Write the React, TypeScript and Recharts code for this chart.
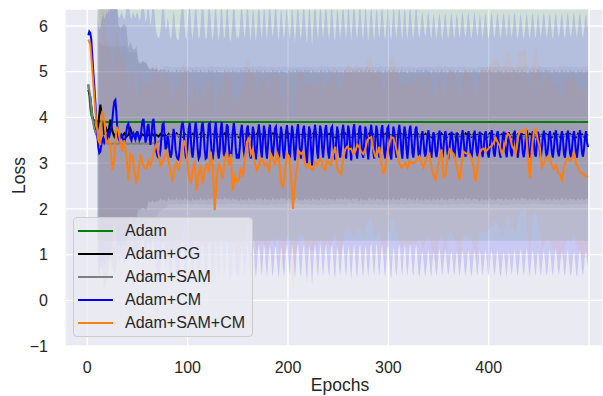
import React from 'react';
import { ComposedChart, Line, Area, XAxis, YAxis, CartesianGrid, Legend } from 'recharts';

const seriesNames = ['Adam', 'Adam+CG', 'Adam+SAM', 'Adam+CM', 'Adam+SAM+CM'];
const seriesColors = ['#008000', '#000000', '#808080', '#0000ff', '#ff7f0e'];
const bandOpacity = [0.1, 0.12, 0.12, 0.14, 0.08];

const xTicks = [0, 100, 200, 300, 400, 500];
const yTicks = [-1, 0, 1, 2, 3, 4, 5, 6];
const xDomain: [number, number] = [-22.2, 513.9];
const yDomain: [number, number] = [-1, 6.372];

const bandStartEpoch = 10;
const stdBlockLength = 10;

// Adam (green)
const adamEpochs = [1, 2, 3, 4, 5, 6, 8, 10, 14, 20, 499];
const adamLoss = [4.72, 4.5, 4.22, 4.05, 3.98, 3.95, 3.93, 3.92, 3.91, 3.9, 3.9];
const adamStd = [2.6];

// Adam+CG (black), every 2 epochs from epoch 1
const cgLoss = [
  4.60, 4.45, 4.05, 3.80, 3.62, 3.85, 4.28, 4.00, 3.62, 3.75,
  3.65, 3.95, 3.70, 3.58, 3.68, 3.62, 3.55, 3.60, 3.65, 3.58,
  3.62, 3.75, 3.62, 3.58, 3.66, 3.60, 3.57, 3.63, 3.60, 3.58,
  3.63, 3.58, 3.64, 3.59, 3.62, 3.58, 3.64, 3.60, 3.63, 3.57,
  3.64, 3.59, 3.62, 3.58, 3.65, 3.59, 3.63, 3.58, 3.64, 3.60,
  3.62, 3.57, 3.64, 3.59, 3.63, 3.58, 3.65, 3.59, 3.62, 3.58,
  3.64, 3.60, 3.63, 3.57, 3.64, 3.59, 3.62, 3.58, 3.65, 3.59,
  3.63, 3.58, 3.64, 3.60, 3.62, 3.57, 3.64, 3.59, 3.63, 3.58,
  3.65, 3.59, 3.62, 3.58, 3.64, 3.60, 3.63, 3.57, 3.64, 3.59,
  3.62, 3.58, 3.65, 3.59, 3.63, 3.58, 3.64, 3.60, 3.62, 3.57,
  3.64, 3.59, 3.63, 3.58, 3.65, 3.59, 3.62, 3.58, 3.64, 3.60,
  3.63, 3.57, 3.64, 3.59, 3.62, 3.58, 3.65, 3.59, 3.63, 3.58,
  3.64, 3.60, 3.62, 3.57, 3.64, 3.59, 3.63, 3.58, 3.65, 3.59,
  3.62, 3.58, 3.64, 3.60, 3.63, 3.57, 3.64, 3.59, 3.62, 3.58,
  3.65, 3.59, 3.63, 3.58, 3.64, 3.60, 3.62, 3.57, 3.64, 3.59,
  3.63, 3.58, 3.65, 3.59, 3.62, 3.58, 3.64, 3.60, 3.63, 3.57,
  3.64, 3.59, 3.62, 3.58, 3.65, 3.59, 3.63, 3.58, 3.64, 3.60,
  3.62, 3.57, 3.64, 3.59, 3.63, 3.58, 3.65, 3.59, 3.62, 3.58,
  3.64, 3.60, 3.63, 3.57, 3.64, 3.59, 3.62, 3.58, 3.65, 3.59,
  3.63, 3.58, 3.64, 3.60, 3.62, 3.57, 3.64, 3.59, 3.63, 3.58,
  3.65, 3.59, 3.62, 3.58, 3.64, 3.60, 3.63, 3.57, 3.64, 3.59,
  3.62, 3.58, 3.65, 3.59, 3.63, 3.58, 3.64, 3.60, 3.62, 3.57,
  3.64, 3.59, 3.63, 3.58, 3.65, 3.59, 3.62, 3.58, 3.64, 3.60,
  3.63, 3.57, 3.64, 3.59, 3.62, 3.58, 3.65, 3.59, 3.63, 3.58,
  3.64, 3.60, 3.62, 3.57, 3.64, 3.59, 3.63, 3.58, 3.62, 3.60,
];
const cgStd = [
  3.40, 3.00, 2.40, 1.90, 1.60, 1.45, 1.42, 1.40, 1.40, 1.41,
  1.40, 1.40, 1.39, 1.40, 1.41, 1.40, 1.40, 1.40, 1.39, 1.40,
  1.41, 1.40, 1.40, 1.40, 1.39, 1.40, 1.41, 1.40, 1.40, 1.40,
  1.39, 1.40, 1.41, 1.40, 1.40, 1.40, 1.39, 1.40, 1.41, 1.40,
  1.40, 1.40, 1.39, 1.40, 1.41, 1.40, 1.40, 1.40, 1.40,
];

// Adam+SAM (gray), every 2 epochs from epoch 1
const samLoss = [
  4.72, 4.45, 4.00, 3.75, 3.62, 3.52, 3.48, 3.45, 3.44, 3.43,
  3.43, 3.42, 3.43, 3.43, 3.42, 3.43, 3.43, 3.42, 3.43, 3.43,
  3.42, 3.43, 3.43, 3.42, 3.43, 3.43, 3.42, 3.43, 3.43, 3.42,
  3.43, 3.43, 3.44, 3.44, 3.45, 3.47, 3.50, 3.53, 3.56, 3.58,
  3.60, 3.61, 3.59, 3.60, 3.61, 3.60, 3.59, 3.61, 3.60, 3.60,
  3.61, 3.60, 3.59, 3.60, 3.61, 3.59, 3.60, 3.61, 3.60, 3.59,
  3.60, 3.61, 3.60, 3.59, 3.60, 3.61, 3.60, 3.60, 3.59, 3.61,
  3.60, 3.59, 3.61, 3.60, 3.60, 3.61, 3.59, 3.60, 3.61, 3.60,
  3.59, 3.60, 3.61, 3.60, 3.59, 3.61, 3.60, 3.60, 3.61, 3.59,
  3.60, 3.61, 3.60, 3.59, 3.60, 3.61, 3.60, 3.59, 3.61, 3.60,
  3.61, 3.60, 3.59, 3.60, 3.61, 3.60, 3.60, 3.59, 3.61, 3.60,
  3.60, 3.59, 3.61, 3.60, 3.59, 3.60, 3.61, 3.60, 3.60, 3.61,
  3.59, 3.60, 3.61, 3.60, 3.59, 3.61, 3.60, 3.60, 3.59, 3.60,
  3.61, 3.60, 3.59, 3.61, 3.60, 3.60, 3.61, 3.59, 3.60, 3.61,
  3.60, 3.59, 3.60, 3.61, 3.60, 3.59, 3.61, 3.60, 3.60, 3.61,
  3.59, 3.60, 3.61, 3.60, 3.60, 3.59, 3.61, 3.60, 3.59, 3.60,
  3.61, 3.60, 3.60, 3.59, 3.61, 3.60, 3.61, 3.59, 3.60, 3.60,
  3.60, 3.61, 3.59, 3.60, 3.61, 3.60, 3.59, 3.60, 3.61, 3.60,
  3.59, 3.61, 3.60, 3.60, 3.59, 3.61, 3.60, 3.61, 3.60, 3.59,
  3.60, 3.60, 3.61, 3.59, 3.60, 3.61, 3.60, 3.59, 3.61, 3.60,
  3.61, 3.59, 3.60, 3.60, 3.61, 3.60, 3.59, 3.61, 3.60, 3.60,
  3.60, 3.61, 3.59, 3.60, 3.61, 3.60, 3.60, 3.59, 3.61, 3.60,
  3.59, 3.60, 3.61, 3.60, 3.59, 3.61, 3.60, 3.60, 3.61, 3.59,
  3.60, 3.61, 3.60, 3.59, 3.60, 3.61, 3.59, 3.60, 3.61, 3.60,
  3.61, 3.60, 3.59, 3.61, 3.60, 3.60, 3.59, 3.61, 3.60, 3.60,
];
const samStd = [
  2.13, 2.13, 2.13, 2.00, 1.80, 1.65, 1.55, 1.50, 1.50, 1.50,
  1.50, 1.51, 1.50, 1.49, 1.50, 1.50, 1.51, 1.50, 1.50, 1.49,
  1.50, 1.50, 1.51, 1.50, 1.50, 1.49, 1.50, 1.50, 1.51, 1.50,
  1.50, 1.49, 1.50, 1.50, 1.51, 1.50, 1.50, 1.49, 1.50, 1.50,
  1.51, 1.50, 1.50, 1.49, 1.50, 1.50, 1.51, 1.50, 1.50,
];

// Adam+CM (blue), every epoch from epoch 1
const cmLossStart = [
  5.80, 5.88, 5.85, 5.70, 5.35, 5.00, 4.70, 4.35, 3.95, 3.60, 3.35, 3.22, 3.25,
  3.40, 3.50, 3.55, 3.45, 3.50, 3.60, 3.55, 3.65, 3.60, 3.70, 3.80, 3.95, 4.20, 4.35, 4.38, 4.10, 3.75, 3.55,
  3.50, 3.55, 3.62, 3.58, 3.50, 3.45, 3.55, 3.70, 3.82, 3.86,
  3.70, 3.55, 3.50, 3.60, 3.65, 3.58, 3.52, 3.62, 3.70, 3.60,
  3.50, 3.55, 3.75, 3.92, 3.97, 3.70, 3.45, 3.55, 3.80, 3.86,
  3.60, 3.40, 3.60, 3.90, 3.97, 3.70, 3.40, 3.25, 3.15,
];
const cmLossEarly = [
  3.12, 3.15, 3.30, 3.60, 3.85, 3.88, 3.60, 3.30, 3.35, 3.60,
  3.50, 3.25, 3.12, 3.20, 3.50, 3.75, 3.60, 3.30, 3.15, 3.10,
  3.08, 3.30, 3.60, 3.82, 3.90, 3.75, 3.40, 3.15, 3.10, 3.40,
  3.75, 3.88, 3.60, 3.25, 3.12, 3.35, 3.70, 3.90, 3.70, 3.30,
  3.10, 3.15, 3.45, 3.80, 3.90, 3.65, 3.30, 3.10, 3.12, 3.50,
  3.85, 3.88, 3.55, 3.20, 3.08, 3.30, 3.70, 3.90, 3.60, 3.25,
  3.10, 3.30, 3.75, 3.90, 3.55, 3.20, 3.15, 3.50, 3.85, 3.80,
  3.40, 3.12, 3.05, 3.30, 3.70, 3.88, 3.70, 3.30, 3.10, 3.20,
];
const cmLossMid = [
  3.10, 3.35, 3.70, 3.84, 3.60, 3.25,
  3.12, 3.40, 3.75, 3.82, 3.55, 3.22,
  3.10, 3.50, 3.80, 3.68, 3.30,
  3.08, 3.30, 3.68, 3.85, 3.62, 3.28,
  3.12, 3.48, 3.82, 3.70, 3.32,
  3.10, 3.36, 3.72, 3.84, 3.58, 3.24,
  3.14, 3.42, 3.76, 3.80, 3.52, 3.20,
  3.08, 3.46, 3.80, 3.66, 3.28,
  3.10, 3.32, 3.70, 3.83, 3.60, 3.26,
  3.12, 3.50, 3.82, 3.68, 3.30,
  3.06, 3.34, 3.72, 3.85, 3.56, 3.22,
  3.10, 3.40, 3.74, 3.82, 3.54, 3.20,
  3.00, 3.44, 3.80, 3.70, 3.30,
  2.95, 3.30, 3.68, 3.84, 3.62, 3.26,
  3.10, 3.48, 3.82, 3.72, 3.34,
  3.12, 3.38, 3.72, 3.83, 3.58, 3.24,
  3.10, 3.42, 3.76, 3.80, 3.50, 3.18,
  3.08, 3.46, 3.80, 3.68, 3.30,
  3.12, 3.34, 3.70, 3.84, 3.60, 3.26,
  3.10, 3.50, 3.82, 3.70, 3.32,
  3.06, 3.36, 3.74, 3.85, 3.56, 3.22,
  3.10, 3.40, 3.76, 3.82, 3.54, 3.20,
  3.12, 3.46, 3.80, 3.70, 3.30,
  3.08, 3.32, 3.70, 3.84, 3.60, 3.24,
  3.10, 3.48, 3.82, 3.70, 3.32,
  3.12, 3.38, 3.72, 3.83, 3.56, 3.22,
  3.10, 3.42, 3.76, 3.80, 3.52, 3.18,
  3.08, 3.46, 3.80, 3.68, 3.30,
  3.12, 3.34, 3.70, 3.84, 3.60, 3.26,
  3.10, 3.50, 3.80, 3.70, 3.32,
  3.10, 3.36, 3.72, 3.82, 3.56, 3.22,
  3.12, 3.40, 3.74, 3.80, 3.54, 3.20,
];
const cmLossLate = [
  3.12, 3.32, 3.58, 3.70, 3.50, 3.22,
  3.14, 3.34, 3.60, 3.72, 3.48, 3.20,
  3.12, 3.44, 3.68, 3.56, 3.26,
  3.13, 3.30, 3.58, 3.71, 3.52, 3.24,
  3.12, 3.35, 3.62, 3.70, 3.46, 3.20,
  3.15, 3.33, 3.59, 3.69, 3.50, 3.22,
  3.13, 3.42, 3.67, 3.58, 3.28,
  3.12, 3.31, 3.57, 3.72, 3.52, 3.23,
  3.14, 3.34, 3.61, 3.70, 3.48, 3.21,
  3.12, 3.32, 3.58, 3.71, 3.51, 3.24,
  3.15, 3.43, 3.69, 3.57, 3.27,
  3.13, 3.33, 3.60, 3.70, 3.49, 3.22,
  3.12, 3.31, 3.58, 3.72, 3.52, 3.23,
  3.14, 3.35, 3.62, 3.70, 3.47, 3.20,
  3.12, 3.32, 3.57, 3.69, 3.50, 3.24,
  3.13, 3.41, 3.68, 3.56, 3.26,
  3.15, 3.34, 3.60, 3.71, 3.49, 3.21,
  3.12, 3.32, 3.58, 3.70, 3.52, 3.23,
  3.13, 3.30, 3.59, 3.72, 3.50, 3.22,
  3.12, 3.35, 3.61, 3.70, 3.48, 3.20,
  3.14, 3.43, 3.69, 3.57, 3.27,
  3.12, 3.33, 3.58, 3.71, 3.51, 3.23,
  3.13, 3.31, 3.60, 3.70, 3.49, 3.22,
  3.12, 3.34, 3.59, 3.72, 3.50, 3.24,
  3.15, 3.32, 3.57, 3.70, 3.52, 3.21,
  3.12, 3.33, 3.61, 3.71, 3.48, 3.22,
  3.13, 3.31, 3.58, 3.70, 3.50, 3.23,
  3.12, 3.35, 3.60, 3.72, 3.51, 3.22,
  3.14, 3.32, 3.58, 3.70, 3.45, 3.35,
];
const cmStd = [
  2.70, 2.70, 2.68, 2.65, 2.62, 2.60, 2.61, 2.59, 2.60, 2.60,
  2.62, 2.60, 2.58, 2.60, 2.61, 2.59, 2.60, 2.62, 2.60, 2.58,
  2.60, 2.61, 2.60, 2.59, 2.60, 2.62, 2.60, 2.58, 2.60, 2.61,
  2.59, 2.60, 2.62, 2.60, 2.58, 2.60, 2.61, 2.60, 2.59, 2.60,
  2.62, 2.60, 2.58, 2.60, 2.61, 2.59, 2.60, 2.62, 2.60,
];

// Adam+SAM+CM (orange), every 2 epochs from epoch 1
const samCmLoss = [
  5.70, 5.60, 5.05, 4.45, 3.90, 3.50, 3.40, 4.15, 3.90, 3.45,
  3.50, 3.40, 2.85, 3.10, 3.80, 3.70, 3.45, 3.25, 3.50, 3.15,
  2.62, 3.20, 3.15, 2.85, 2.55, 2.80, 3.20, 3.00, 2.90, 2.88,
  3.05, 2.95, 3.10, 3.30, 3.42, 3.20, 2.95, 3.00, 3.15, 3.25,
  3.05, 2.80, 2.60, 2.90, 3.00, 2.85, 3.10, 3.35, 3.50, 3.20,
  2.75, 2.55, 2.80, 3.05, 2.40, 2.75, 2.95, 2.55, 2.85, 3.00,
  2.80, 3.25, 2.90, 1.97, 2.70, 3.00, 2.85, 2.65, 3.10, 3.25,
  2.95, 3.20, 2.40, 2.70, 2.60, 2.63, 2.90, 2.70, 3.10, 3.46,
  3.54, 3.20, 3.30, 3.00, 2.85, 2.94, 3.10, 3.05, 2.95, 3.00,
  2.80, 3.20, 3.10, 2.95, 3.22, 3.10, 2.60, 2.46, 2.80, 3.20,
  3.15, 2.75, 2.00, 2.60, 2.90, 3.26, 3.20, 3.25, 2.95, 2.90,
  3.00, 2.88, 2.85, 3.02, 2.95, 3.05, 3.10, 2.90, 2.85, 3.05,
  3.00, 2.95, 3.20, 3.36, 2.90, 2.80, 2.75, 3.10, 3.30, 3.36,
  3.30, 3.32, 3.20, 3.25, 3.40, 3.35, 3.25, 3.20, 3.30, 3.50,
  3.55, 3.57, 3.30, 3.15, 3.20, 3.36, 3.00, 2.76, 2.90, 3.20,
  3.45, 3.57, 3.55, 3.40, 3.20, 3.00, 2.90, 2.95, 3.00, 2.90,
  3.05, 3.00, 3.00, 3.02, 3.10, 3.15, 3.00, 2.90, 3.05, 3.15,
  3.20, 2.90, 2.74, 2.63, 2.85, 3.10, 3.30, 2.70, 2.75, 3.10,
  3.30, 3.25, 3.20, 3.05, 2.85, 2.63, 3.00, 3.25, 3.22, 3.20,
  3.20, 3.10, 2.90, 2.60, 2.95, 3.22, 3.30, 3.32, 3.25, 3.30,
  3.35, 3.38, 3.45, 3.55, 3.45, 3.38, 3.20, 3.30, 3.50, 3.65,
  3.60, 3.40, 3.30, 3.20, 3.55, 3.70, 3.68, 3.72, 3.75, 3.20,
  2.67, 3.30, 3.70, 3.75, 3.50, 3.35, 2.90, 3.00, 3.10, 3.15,
  3.10, 2.95, 2.88, 2.95, 2.80, 2.75, 2.63, 2.90, 3.05, 3.10,
  3.05, 3.10, 3.25, 3.00, 2.90, 2.80, 2.78, 2.75, 2.70, 2.72,
];
const samCmStd = [
  2.30, 2.10, 1.95, 1.85, 1.80, 1.78, 1.80, 1.76, 1.78, 1.80,
  1.78, 1.76, 1.80, 1.78, 1.82, 1.76, 1.78, 1.80, 1.78, 1.77,
  1.79, 1.78, 1.76, 1.80, 1.78, 1.81, 1.77, 1.78, 1.80, 1.78,
  1.76, 1.79, 1.78, 1.80, 1.78, 1.77, 1.81, 1.78, 1.79, 1.78,
  1.80, 1.78, 1.76, 1.79, 1.78, 1.80, 1.77, 1.78, 1.79,
];

const oddEpochs = (n: number) => Array.from({ length: n }, (_, i) => 2 * i + 1);
const seqEpochs = (n: number) => Array.from({ length: n }, (_, i) => i + 1);

const cmLoss = [...cmLossStart, ...cmLossEarly, ...cmLossMid, ...cmLossLate];

function buildSeries(epochs: number[], loss: number[], std: number[]) {
  const line = epochs.map((e, i) => ({ epoch: e, loss: loss[i] }));
  const band = line
    .filter((p) => p.epoch >= bandStartEpoch)
    .map((p) => {
      const k = Math.min(std.length - 1, Math.floor((p.epoch - bandStartEpoch) / stdBlockLength));
      return { epoch: p.epoch, band: [p.loss - std[k], p.loss + std[k]] };
    });
  return { line, band };
}

const series = [
  buildSeries(adamEpochs, adamLoss, adamStd),
  buildSeries(oddEpochs(cgLoss.length), cgLoss, cgStd),
  buildSeries(oddEpochs(samLoss.length), samLoss, samStd),
  buildSeries(seqEpochs(cmLoss.length), cmLoss, cmStd),
  buildSeries(oddEpochs(samCmLoss.length), samCmLoss, samCmStd),
];

const FONT = '"Liberation Sans", Arial, Helvetica, sans-serif';
const TEXT = '#262626';

const XTick = (props: any) => {
  const { x, y, payload } = props;
  if (payload.value === 500) return <g />;
  return (
    <text x={x} y={y + 25} textAnchor="middle" fontFamily={FONT} fontSize={16} fill={TEXT}>
      {payload.value}
    </text>
  );
};

const YTick = (props: any) => {
  const { x, y, payload } = props;
  const label = payload.value < 0 ? '\u2212' + Math.abs(payload.value) : String(payload.value);
  return (
    <text x={x - 15} y={y + 5.7} textAnchor="end" fontFamily={FONT} fontSize={16} fill={TEXT}>
      {label}
    </text>
  );
};

const XLabel = (props: any) => {
  const vb = props.viewBox;
  return (
    <text x={vb.x + 275} y={vb.y + 45} textAnchor="middle" fontFamily={FONT} fontSize={17.5} fill={TEXT}>
      Epochs
    </text>
  );
};

const YLabel = (props: any) => {
  const vb = props.viewBox;
  const cx = 24.5;
  const cy = vb.y + vb.height / 2 - 2;
  return (
    <text x={cx} y={cy} transform={`rotate(-90, ${cx}, ${cy})`} textAnchor="middle" fontFamily={FONT} fontSize={17.5} fill={TEXT}>
      Loss
    </text>
  );
};

const LegendBox = () => (
  <div
    style={{
      width: 180,
      height: 120,
      boxSizing: 'border-box',
      border: '1px solid #cccccc',
      borderRadius: 4,
      background: 'rgba(234,234,242,0.8)',
      position: 'relative',
      fontFamily: FONT,
      fontSize: 16,
      color: TEXT,
    }}
  >
    {seriesNames.map((n, i) => (
      <div
        key={n}
        style={{ position: 'absolute', left: 0, top: 2 + i * 23, height: 22, display: 'flex', alignItems: 'center', whiteSpace: 'nowrap' }}
      >
        <div style={{ marginLeft: 4, width: 35, height: 2, background: seriesColors[i] }} />
        <span style={{ marginLeft: 12, lineHeight: '22px' }}>{n}</span>
      </div>
    ))}
  </div>
);

export default function App() {
  return (
    <div style={{ position: 'absolute', left: 0, top: 0, width: 603, height: 396, background: '#ffffff' }}>
      <ComposedChart width={603} height={396} margin={{ top: 9, right: 0, bottom: 0, left: 0 }}>
        <CartesianGrid fill="#eaeaf2" stroke="#ffffff" strokeWidth={1.3} />
        <XAxis
          type="number"
          dataKey="epoch"
          domain={xDomain}
          allowDataOverflow
          ticks={xTicks}
          height={50}
          tickSize={0}
          tickLine={false}
          axisLine={false}
          tick={XTick}
          interval={0}
          label={XLabel}
        />
        <YAxis
          type="number"
          domain={yDomain}
          allowDataOverflow
          ticks={yTicks}
          width={65}
          tickSize={0}
          tickLine={false}
          axisLine={false}
          tick={YTick}
          interval={0}
          label={YLabel}
        />
        {series.map((s, i) => (
          <Area
            key={'band' + i}
            data={s.band}
            dataKey="band"
            type="linear"
            stroke="none"
            fill={seriesColors[i]}
            fillOpacity={bandOpacity[i]}
            isAnimationActive={false}
            dot={false}
            activeDot={false}
            legendType="none"
          />
        ))}
        {series.map((s, i) => (
          <Line
            key={'line' + i}
            data={s.line}
            dataKey="loss"
            type="linear"
            stroke={seriesColors[i]}
            strokeWidth={2}
            dot={false}
            activeDot={false}
            isAnimationActive={false}
            name={seriesNames[i]}
          />
        ))}
        <Legend
          layout="horizontal"
          verticalAlign="middle"
          align="center"
          content={LegendBox}
          wrapperStyle={{ left: 73, top: 217, width: 180, height: 120 }}
        />
      </ComposedChart>
    </div>
  );
}
